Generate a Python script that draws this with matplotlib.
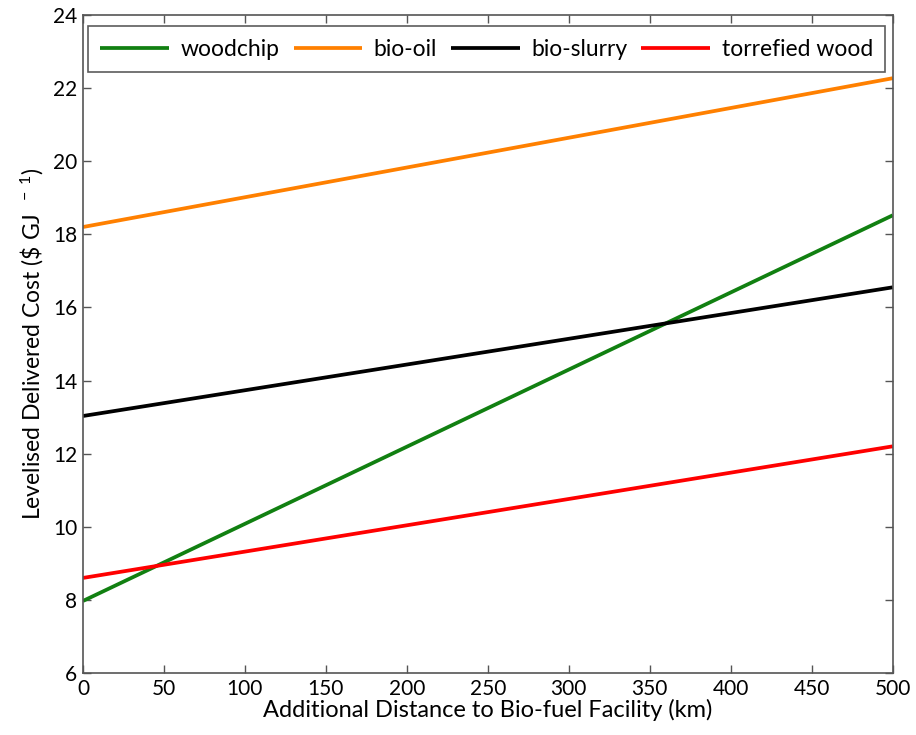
import matplotlib
matplotlib.use("Agg")
import matplotlib.pyplot as plt
import numpy as np

plt.rcParams['font.family'] = ['Lato', 'DejaVu Sans']
plt.rcParams['mathtext.fontset'] = 'custom'
plt.rcParams['mathtext.rm'] = 'Lato'
plt.rcParams['mathtext.it'] = 'Lato'

# distance endpoints (km) and levelised cost at each end ($/GJ)
distance = [0, 500]
woodchip = [7.97, 18.52]
bio_oil = [18.2, 22.27]
bio_slurry = [13.03, 16.55]
torrefied_wood = [8.6, 12.2]

series = [
    ("woodchip", woodchip, "#118011"),
    ("bio-oil", bio_oil, "#ff8000"),
    ("bio-slurry", bio_slurry, "#000000"),
    ("torrefied wood", torrefied_wood, "#ff0000"),
]

fig = plt.figure(figsize=(9.16, 7.35), dpi=100)
ax = fig.add_axes([0.0906, 0.0844, 0.884, 0.8952])

for name, vals, col in series:
    ax.plot(distance, vals, color=col, lw=2.7, label=name, solid_capstyle='butt')

ax.set_xlim(0, 500)
ax.set_ylim(6, 24)
ax.set_xticks(np.arange(0, 501, 50))
ax.set_yticks(np.arange(6, 25, 2))
ax.tick_params(direction='in', top=True, right=True, labelsize=15,
               length=6, width=1, color='#555555', pad=4)
for s in ax.spines.values():
    s.set_color('#555555')
    s.set_linewidth(1.2)

ax.set_xlabel("Additional Distance to Bio-fuel Facility (km)", fontsize=17, labelpad=0)
ax.set_ylabel(r"Levelised Delivered Cost (\$ GJ $^{\ -\ 1}$)", fontsize=16.5, labelpad=5)

leg = ax.legend(loc='upper left', bbox_to_anchor=(0.006, 0.983, 0.985, 0), mode='expand',
                ncol=4, fontsize=16.5, frameon=True, fancybox=False, handlelength=3.0,
                borderpad=0.55, borderaxespad=0, columnspacing=0.8, handletextpad=0.5)
leg.get_frame().set_edgecolor('#333333')
leg.get_frame().set_linewidth(1.2)

fig.savefig("out.png", dpi=100)
